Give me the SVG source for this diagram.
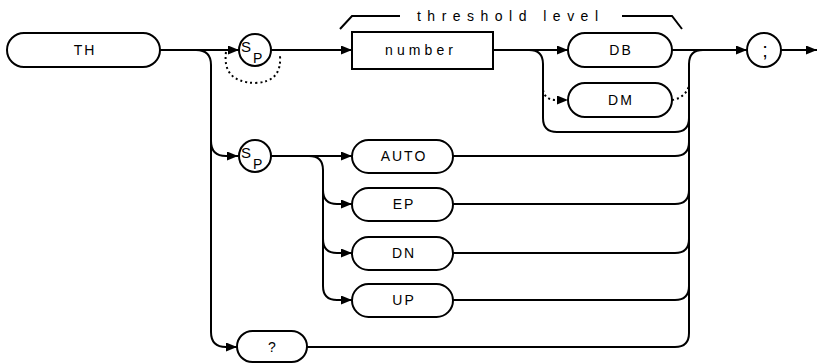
<svg xmlns="http://www.w3.org/2000/svg" width="818" height="364" viewBox="0 0 818 364">
<style>
.n{fill:#fff;stroke:#000;stroke-width:2}
.t{font-family:"Liberation Sans",Arial,sans-serif;font-size:14px;fill:#000;text-anchor:middle;letter-spacing:2px}
.s{font-family:"Liberation Sans",Arial,sans-serif;font-size:15px;fill:#000}
.c{fill:none;stroke:#000;stroke-width:2}
.d{fill:none;stroke:#000;stroke-width:2;stroke-dasharray:2 3}
.a{marker-end:url(#ah)}
</style>
<defs>
<marker id="ah" markerUnits="userSpaceOnUse" markerWidth="11" markerHeight="9" refX="11" refY="4.5" orient="auto">
<path d="M0,0 L11,4.5 L0,9 z" fill="#000"/>
</marker>
</defs>
<rect width="818" height="364" fill="#fff"/>
<g id="connectors">
<path class="c a" d="M160,50 H239"/>
<path class="c a" d="M271,50 H352"/>
<path class="d" d="M226,52 Q222,82 255,83 Q282,82 280,56"/>
<path class="c a" d="M196,50 Q211,50 211,65 V332 Q211,347 226,347 H237"/>
<path class="c a" d="M211,141 Q211,156 226,156 H238"/>
<path class="c a" d="M493,50 H568"/>
<path class="c" d="M529,50 Q543,50 543,64 V118 Q543,132 557,132 H675 Q689,132 689,118"/>
<path class="d a" d="M543,90 Q545,100 556,100 H568"/>
<path class="c a" d="M672,50 H747"/>
<path class="c" d="M675,347 Q689,347 689,333 V64 Q689,50 703,50"/>
<path class="d" d="M672,100 Q685,98 689,86"/>
<path class="c a" d="M271,156 H352"/>
<path class="c a" d="M309,156 Q323,156 323,170 V286 Q323,300 337,300 H352"/>
<path class="c a" d="M323,190 Q323,204 337,204 H352"/>
<path class="c a" d="M323,239 Q323,253 337,253 H352"/>
<path class="c" d="M453,156 H675 Q689,156 689,142"/>
<path class="c" d="M453,204 H675 Q689,204 689,190"/>
<path class="c" d="M453,253 H675 Q689,253 689,239"/>
<path class="c" d="M453,300 H675 Q689,300 689,286"/>
<path class="c" d="M307,347 H675"/>
<path class="c a" d="M780,50 H817"/>
<polyline class="c" points="340,29 352,16 400,16"/>
<polyline class="c" points="622,16 672,16 682,29"/>
<text x="417" y="21" font-family="Liberation Sans,Arial,sans-serif" font-size="14" textLength="181" lengthAdjust="spacing">threshold level</text>
</g>
<g id="TH">
<rect class="n" x="7" y="33" width="153" height="34" rx="17"/>
<text class="t" x="85" y="55">TH</text>
</g>
<g id="SP1">
<circle class="n" cx="255" cy="50" r="16"/>
<text class="s" x="241" y="52">S</text>
<text class="s" x="253" y="63" style="font-size:14px">P</text>
</g>
<g id="number">
<rect class="n" x="352" y="32" width="141" height="37"/>
<text class="t" x="420" y="55" textLength="70">number</text>
</g>
<g id="DB">
<rect class="n" x="568" y="33" width="104" height="34" rx="17"/>
<text class="t" x="621" y="55">DB</text>
</g>
<g id="DM">
<rect class="n" x="568" y="83" width="104" height="34" rx="17"/>
<text class="t" x="621" y="105">DM</text>
</g>
<g id="semicolon">
<circle class="n" cx="764" cy="50" r="17"/>
<text class="t" x="765" y="57" style="letter-spacing:0;font-size:20px">;</text>
</g>
<g id="SP2">
<circle class="n" cx="255" cy="156" r="16"/>
<text class="s" x="241" y="158">S</text>
<text class="s" x="253" y="169" style="font-size:14px">P</text>
</g>
<g id="AUTO">
<rect class="n" x="352" y="140" width="101" height="33" rx="16.5"/>
<text class="t" x="404" y="161">AUTO</text>
</g>
<g id="EP">
<rect class="n" x="352" y="188" width="101" height="33" rx="16.5"/>
<text class="t" x="404" y="209">EP</text>
</g>
<g id="DN">
<rect class="n" x="352" y="237" width="101" height="33" rx="16.5"/>
<text class="t" x="404" y="258">DN</text>
</g>
<g id="UP">
<rect class="n" x="352" y="284" width="101" height="33" rx="16.5"/>
<text class="t" x="404" y="305">UP</text>
</g>
<g id="query">
<rect class="n" x="237" y="331" width="70" height="31" rx="15.5"/>
<text class="t" x="273" y="352">?</text>
</g>
</svg>
